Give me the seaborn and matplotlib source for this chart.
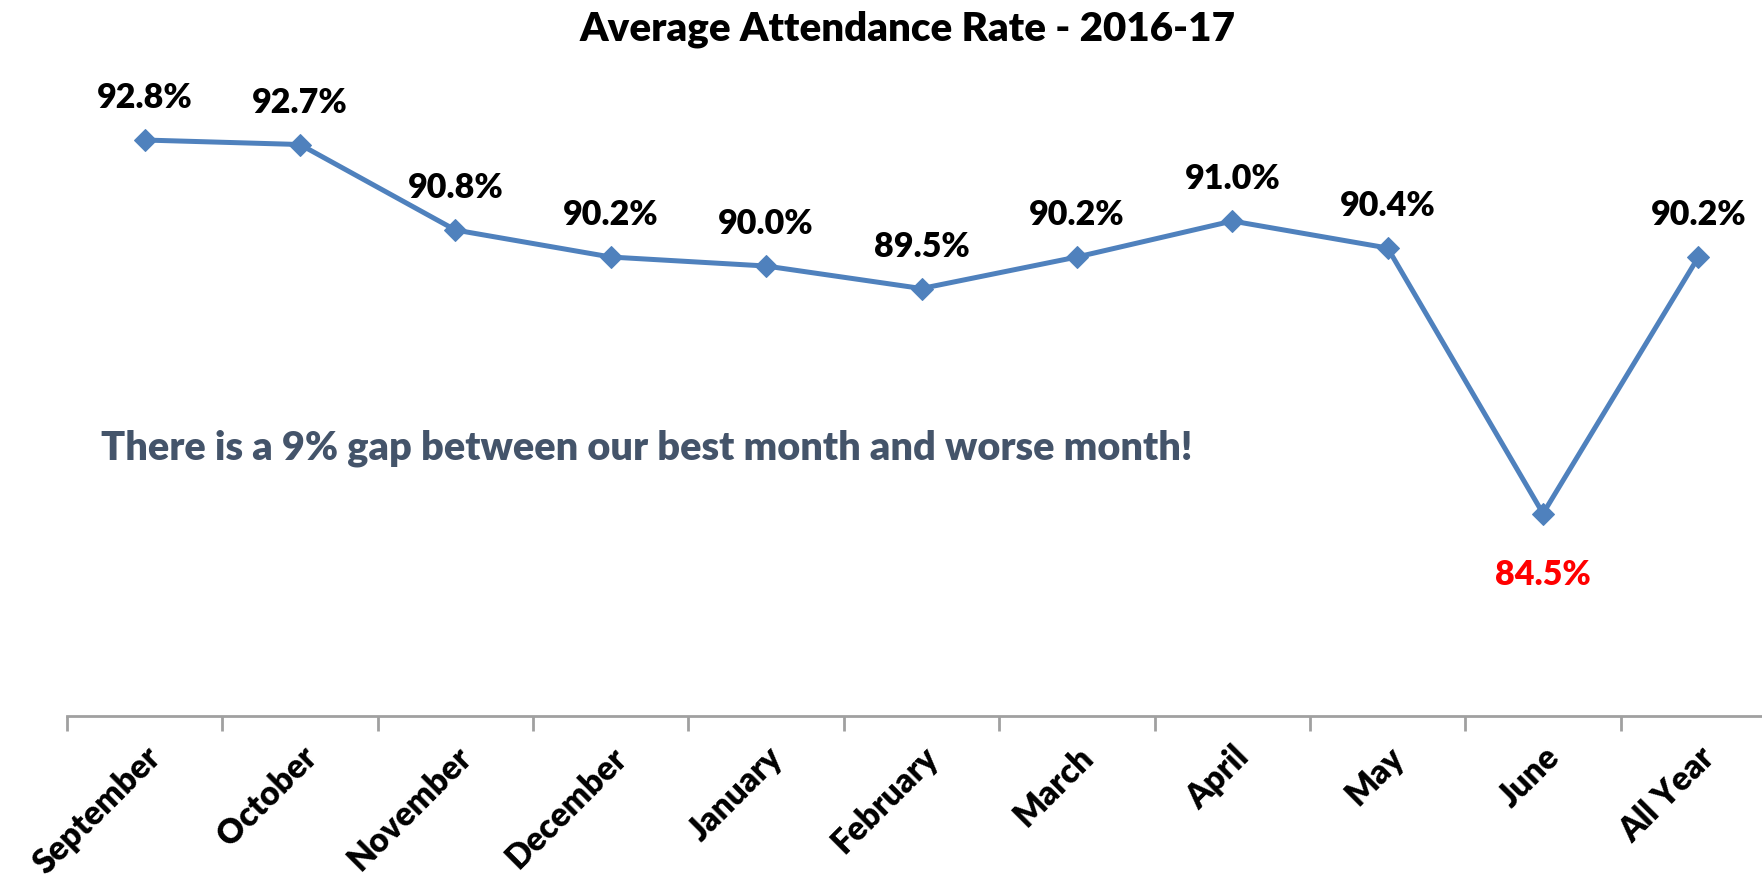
import numpy as np
import pandas as pd
import matplotlib.pyplot as plt
import seaborn as sns

# ==========================================
# DATA
# ==========================================
months = ["September", "October", "November", "December", "January", "February",
          "March", "April", "May", "June", "All Year"]
rates = [92.8, 92.7, 90.8, 90.2, 90.0, 89.5, 90.2, 91.0, 90.4, 84.5, 90.2]
value_labels = ["92.8%", "92.7%", "90.8%", "90.2%", "90.0%", "89.5%",
                "90.2%", "91.0%", "90.4%", "84.5%", "90.2%"]

title = "Average Attendance Rate - 2016-17"
note = "There is a 9% gap between our best month and worse month!"

df = pd.DataFrame({"Month": months, "Rate": rates, "Label": value_labels})

# ==========================================
# PLOT
# ==========================================
sns.set_theme(style="white")
plt.rcParams['font.family'] = ['Lato', 'DejaVu Sans']
W = "heavy"

fig = plt.figure(figsize=(17.62, 8.84), dpi=100)
ax = fig.add_axes([0.038, 0.19, 0.97, 0.7636])

line_color = "#4F81BD"
sns.lineplot(data=df, x="Month", y="Rate", sort=False, ax=ax, color=line_color,
             linewidth=3.6, marker="D", markersize=11, markeredgecolor=line_color)

ax.set_ylim(80, 95)
ax.set_xlim(-0.5, len(months) - 0.5)

# value labels (lowest point gets a red label below)
min_idx = int(np.argmin(rates))
for i, (r, lab) in enumerate(zip(rates, value_labels)):
    if i == min_idx:
        ax.annotate(lab, (i, r), xytext=(0, -44), textcoords="offset points",
                    ha="center", va="center", fontsize=24.5, fontweight=W, color="red")
    else:
        ax.annotate(lab, (i, r), xytext=(0, 30), textcoords="offset points",
                    ha="center", va="center", fontsize=24.5, fontweight=W, color="black")

ax.text(0.02, 0.397, note, transform=ax.transAxes, fontsize=28.5, fontweight=W,
        color="#44546A", ha="left", va="center")

# axes styling
for s in ["top", "right", "left"]:
    ax.spines[s].set_visible(False)
ax.spines["bottom"].set_color("#A0A0A0")
ax.spines["bottom"].set_linewidth(2)
ax.set_yticks([])
ax.set_xticks(range(len(months)))
ax.set_xticklabels(months, rotation=45, ha="right", rotation_mode="anchor",
                   fontsize=24, fontweight=W, color="black")
ax.tick_params(axis="x", which="major", length=0, pad=18)
ax.set_xticks(np.arange(-0.5, len(months) + 0.5, 1), minor=True)
ax.tick_params(axis="x", which="minor", length=11, width=2, color="#A0A0A0", bottom=True)
ax.set_xlabel("")
ax.set_ylabel("")

fig.suptitle(title, x=0.515, y=0.988, fontsize=29, fontweight=W, color="black")

plt.savefig("out.png", dpi=100)
